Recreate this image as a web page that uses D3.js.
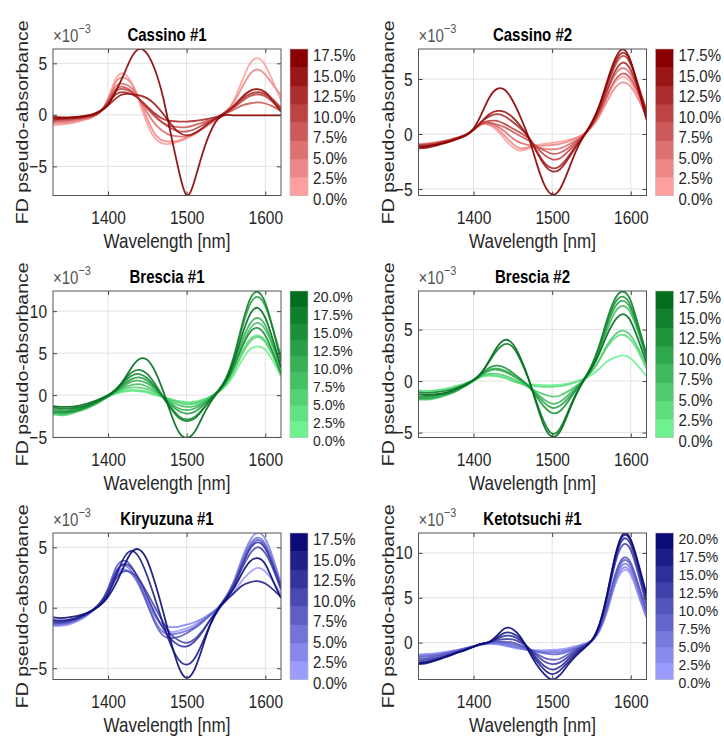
<!DOCTYPE html>
<html>
<head>
<meta charset="utf-8">
<script src="https://cdn.jsdelivr.net/npm/d3@7"></script>
<style>
  body { margin: 0; background: #fff; }
  text { font-family: "Liberation Sans", Arial, sans-serif; fill: #262626; }
</style>
</head>
<body>
<div id="chart"></div>
<script>
// wavelengths shared by every spectrum (nm)
const wavelengths = [1330,1340,1350,1360,1370,1380,1390,1400,1410,1420,1430,1440,1450,1460,1470,1480,1490,1500,1510,1520,1530,1540,1550,1560,1570,1580,1590,1600,1610,1620];

const titles = ["Cassino #1", "Cassino #2", "Brescia #1", "Brescia #2", "Kiryuzuna #1", "Ketotsuchi #1"];
const levels175 = [0, 2.5, 5, 7.5, 10, 12.5, 15, 17.5];
const levels200 = [0, 2.5, 5, 7.5, 10, 12.5, 15, 17.5, 20];
const xTicks = [1400, 1500, 1600];
const yTicks = [[-5, 0, 5], [-5, 0, 5], [-5, 0, 5, 10], [-5, 0, 5], [-5, 0, 5], [0, 5, 10]];
const yDomains = [[-7.83, 6.39], [-5.59, 7.73], [-5.05, 12.4], [-5.48, 8.75], [-5.93, 6.18], [-4.11, 12.22]];

// FD pseudo-absorbance (x10^-3), one row per concentration level, lowest first
const cassino1 = [
  [-1.0,-0.95,-0.85,-0.7,-0.5,-0.25,0.3,1.6,3.5,4.0, 3.1,1.2,-0.9,-2.3,-2.8,-2.8,-2.6,-2.3,-1.9,-1.4, -0.9,-0.35,0.3,1.4,3.2,4.9,5.5,4.8,3.2,1.4],
  [-0.85,-0.8,-0.75,-0.6,-0.45,-0.2,0.3,1.5,3.2,3.6, 3.0,1.5,-0.4,-1.9,-2.5,-2.6,-2.5,-2.2,-1.8,-1.3, -0.8,-0.3,0.3,1.2,2.6,3.9,4.4,3.9,2.9,1.9],
  [-0.7,-0.65,-0.6,-0.5,-0.35,-0.15,0.3,1.4,2.8,3.0, 2.6,1.5,0.2,-0.9,-1.6,-2.0,-2.1,-2.1,-1.8,-1.3, -0.8,-0.3,0.2,0.8,1.6,2.3,2.5,2.2,1.5,0.7],
  [-0.6,-0.55,-0.5,-0.4,-0.3,-0.1,0.3,1.3,2.5,2.7, 2.3,1.5,0.6,-0.2,-0.8,-1.1,-1.2,-1.2,-1.0,-0.75, -0.5,-0.2,0.15,0.5,0.9,1.1,1.2,1.1,0.8,0.4],
  [-0.5,-0.45,-0.4,-0.35,-0.25,-0.1,0.3,1.2,2.3,2.5, 2.2,1.5,0.7,-0.1,-0.8,-1.3,-1.6,-1.6,-1.4,-1.0, -0.6,-0.2,0.2,0.7,1.3,1.8,2.0,1.8,1.2,0.4],
  [-0.4,-0.4,-0.35,-0.3,-0.2,-0.05,0.3,1.1,2.0,2.2, 2.0,1.5,0.8,0.1,-0.4,-0.6,-0.65,-0.65,-0.6,-0.5, -0.35,-0.15,0.2,0.8,1.5,2.0,2.2,2.0,1.4,0.6],
  [-0.35,-0.35,-0.3,-0.25,-0.15,0.0,0.3,0.9,1.6,2.0, 2.0,1.9,1.6,1.0,0.1,-0.9,-1.7,-2.0,-1.8,-1.3, -0.7,-0.2,0.3,0.9,1.7,2.3,2.5,2.2,1.3,0.3],
  [-0.2,-0.25,-0.25,-0.2,-0.1,0.05,0.4,1.0,2.3,3.9, 5.6,6.4,5.9,4.3,1.7,-1.9,-5.4,-7.8,-6.4,-3.8, -1.7,-0.4,0.0,-0.05,-0.05,-0.05,-0.05,-0.05,-0.05,-0.05]
];
const cassino2 = [
  [-0.9,-0.85,-0.75,-0.65,-0.5,-0.3,-0.05,0.4,0.85,0.8, 0.3,-0.5,-1.2,-1.5,-1.3,-1.0,-0.9,-0.8,-0.7,-0.55, -0.35,0.0,0.7,1.8,3.4,4.7,5.2,4.7,3.3,1.5],
  [-0.95,-0.9,-0.8,-0.7,-0.5,-0.3,-0.05,0.4,0.9,0.9, 0.5,-0.2,-0.9,-1.3,-1.2,-1.1,-1.05,-1.0,-0.9,-0.7, -0.4,0.0,0.6,1.6,3.0,4.2,4.7,4.3,3.1,1.6],
  [-1.1,-1.05,-0.95,-0.8,-0.6,-0.35,-0.1,0.4,0.95,1.0, 0.7,0.2,-0.4,-0.8,-1.0,-1.2,-1.35,-1.4,-1.3,-1.0, -0.6,-0.1,0.8,2.1,3.9,5.4,6.0,5.4,3.8,2.0],
  [-1.05,-1.0,-0.9,-0.75,-0.55,-0.35,-0.1,0.4,0.9,1.0, 0.85,0.6,0.2,-0.2,-0.6,-1.1,-1.5,-1.8,-1.7,-1.3, -0.7,-0.1,0.7,1.9,3.5,4.9,5.5,5.0,3.6,1.9],
  [-1.0,-0.95,-0.85,-0.7,-0.55,-0.35,-0.1,0.4,1.0,1.2, 1.2,0.9,0.5,0.1,-0.4,-1.2,-1.9,-2.3,-2.2,-1.6, -0.9,-0.1,0.9,2.4,4.4,6.2,7.1,6.3,4.3,2.2],
  [-1.1,-1.05,-0.95,-0.8,-0.6,-0.4,-0.1,0.4,1.1,1.6, 1.8,1.6,1.1,0.5,-0.3,-1.5,-2.6,-3.1,-2.9,-2.1, -1.1,-0.2,0.8,2.2,4.0,5.7,6.5,5.8,4.0,2.0],
  [-1.3,-1.25,-1.1,-0.9,-0.7,-0.45,-0.15,0.35,1.1,1.8, 2.1,2.0,1.5,0.7,-0.3,-1.6,-2.8,-3.4,-3.2,-2.3, -1.2,-0.2,0.9,2.5,4.6,6.5,7.4,6.5,4.3,1.8],
  [-1.2,-1.15,-1.0,-0.85,-0.65,-0.4,-0.1,0.5,1.8,3.3, 4.1,4.0,3.0,1.5,-0.3,-2.6,-4.6,-5.5,-5.0,-3.4, -1.6,-0.2,1.0,2.6,4.8,6.8,7.7,6.6,4.0,1.3]
];
const brescia1 = [
  [-2.0,-2.1,-2.0,-1.8,-1.5,-1.1,-0.7,-0.2,0.2,0.4, 0.5,0.45,0.3,0.0,-0.25,-0.5,-0.7,-0.85,-0.8,-0.55, -0.2,0.3,1.1,2.4,4.1,5.4,5.8,5.4,4.0,2.2],
  [-2.2,-2.3,-2.2,-1.9,-1.6,-1.2,-0.75,-0.2,0.2,0.5, 0.6,0.55,0.4,0.1,-0.2,-0.5,-0.75,-0.9,-0.85,-0.6, -0.2,0.4,1.4,3.0,5.0,6.6,7.1,6.5,4.9,2.9],
  [-2.3,-2.4,-2.3,-2.0,-1.7,-1.3,-0.8,-0.2,0.3,0.7, 0.9,0.9,0.7,0.3,-0.2,-0.6,-0.9,-1.1,-1.0,-0.7, -0.2,0.4,1.3,2.8,4.8,6.3,6.9,6.3,4.6,2.6],
  [-2.0,-2.1,-2.0,-1.8,-1.5,-1.1,-0.65,-0.1,0.4,0.9, 1.2,1.3,1.0,0.5,-0.2,-0.8,-1.2,-1.4,-1.3,-0.9, -0.3,0.4,1.5,3.4,5.8,7.8,8.6,7.8,5.7,3.2],
  [-2.1,-2.2,-2.1,-1.9,-1.6,-1.2,-0.7,-0.1,0.5,1.1, 1.6,1.7,1.4,0.7,-0.2,-1.0,-1.6,-1.8,-1.6,-1.1, -0.4,0.4,1.6,3.6,6.3,8.4,9.2,8.3,5.9,3.2],
  [-1.7,-1.8,-1.8,-1.6,-1.4,-1.0,-0.6,-0.1,0.5,1.3, 1.9,2.1,1.7,0.9,-0.2,-1.2,-1.9,-2.2,-2.0,-1.3, -0.4,0.5,1.9,4.4,7.8,10.7,11.7,10.6,7.8,4.6],
  [-1.9,-2.0,-2.0,-1.8,-1.5,-1.1,-0.65,-0.1,0.6,1.5, 2.3,2.5,2.0,1.0,-0.3,-1.5,-2.5,-2.9,-2.6,-1.7, -0.6,0.4,1.6,3.4,5.6,7.4,8.0,7.1,5.0,2.5],
  [-1.5,-1.6,-1.6,-1.5,-1.3,-1.0,-0.6,-0.1,0.6,1.7, 2.7,3.0,2.5,1.3,-0.2,-1.6,-2.7,-3.1,-2.8,-1.8, -0.6,0.5,2.0,4.6,8.2,11.3,12.3,11.0,7.8,4.0],
  [-1.3,-1.4,-1.4,-1.3,-1.1,-0.8,-0.45,0.0,0.7,1.8, 3.3,4.3,4.2,2.8,0.5,-2.2,-4.4,-5.1,-4.4,-2.6, -0.9,0.4,1.8,4.0,7.0,9.5,10.4,9.2,6.5,3.3]
];
const brescia2 = [
  [-1.0,-1.0,-0.95,-0.85,-0.7,-0.5,-0.25,0.05,0.4,0.5, 0.45,0.3,0.05,-0.15,-0.3,-0.35,-0.4,-0.4,-0.35,-0.25, -0.05,0.2,0.6,1.2,1.9,2.3,2.5,2.2,1.4,0.5],
  [-0.9,-0.95,-0.9,-0.8,-0.65,-0.45,-0.2,0.1,0.45,0.6, 0.5,0.3,0.0,-0.25,-0.4,-0.5,-0.55,-0.55,-0.5,-0.35, -0.1,0.2,0.9,2.0,3.3,4.2,4.5,4.0,2.8,1.2],
  [-1.8,-1.8,-1.7,-1.5,-1.25,-0.9,-0.45,0.0,0.5,0.7, 0.7,0.5,0.2,-0.2,-0.6,-1.0,-1.3,-1.5,-1.4,-1.0, -0.5,0.1,0.9,2.1,3.5,4.5,4.9,4.4,3.1,1.5],
  [-1.6,-1.6,-1.5,-1.35,-1.15,-0.8,-0.4,0.05,0.6,1.0, 1.1,0.9,0.5,0.0,-0.5,-1.2,-1.8,-2.2,-2.0,-1.4, -0.6,0.1,1.2,2.9,5.0,6.7,7.3,6.6,4.6,2.2],
  [-1.7,-1.7,-1.6,-1.4,-1.2,-0.85,-0.45,0.05,0.6,1.1, 1.2,1.0,0.6,0.1,-0.5,-1.3,-2.1,-2.6,-2.4,-1.7, -0.8,0.1,1.3,3.1,5.4,7.2,7.8,7.0,4.9,2.4],
  [-1.5,-1.5,-1.4,-1.3,-1.1,-0.8,-0.4,0.1,0.7,1.3, 1.5,1.3,0.8,0.2,-0.5,-1.5,-2.5,-3.1,-2.9,-2.0, -0.9,0.1,1.4,3.3,5.7,7.6,8.2,7.3,5.0,2.4],
  [-1.1,-1.15,-1.1,-1.0,-0.85,-0.6,-0.3,0.1,0.8,1.9, 3.0,3.6,3.3,2.0,0.2,-2.0,-4.0,-5.1,-4.6,-3.0, -1.3,0.1,1.5,3.5,6.0,8.0,8.7,7.8,5.3,2.6],
  [-1.3,-1.35,-1.3,-1.2,-1.0,-0.7,-0.35,0.1,0.8,2.0, 3.3,4.0,3.6,2.2,0.2,-2.2,-4.4,-5.4,-4.9,-3.2, -1.4,0.0,1.2,2.7,4.5,5.9,6.5,5.8,3.9,1.8]
];
const kiryuzuna1 = [
  [-1.5,-1.5,-1.4,-1.15,-0.8,-0.3,0.35,1.3,2.6,3.1, 2.8,1.9,0.6,-0.7,-1.6,-2.0,-1.9,-1.7,-1.4,-1.0, -0.5,0.0,0.6,1.3,2.2,2.9,3.3,3.0,2.2,1.1],
  [-1.2,-1.25,-1.15,-0.95,-0.65,-0.25,0.35,1.4,2.8,3.2, 2.8,1.8,0.5,-0.7,-1.4,-1.6,-1.55,-1.4,-1.2,-0.9, -0.5,0.0,0.9,2.2,4.0,5.5,6.2,5.7,4.1,2.0],
  [-1.4,-1.4,-1.3,-1.05,-0.7,-0.25,0.4,1.5,3.0,3.5, 3.0,1.8,0.3,-1.1,-2.0,-2.2,-2.1,-1.9,-1.6,-1.1, -0.6,0.0,0.9,2.1,3.8,5.2,5.8,5.3,3.8,1.9],
  [-1.3,-1.3,-1.2,-1.0,-0.7,-0.25,0.4,1.6,3.3,3.9, 3.4,2.0,0.3,-1.3,-2.3,-2.5,-2.4,-2.1,-1.7,-1.2, -0.6,0.0,0.9,2.0,3.6,5.0,5.6,5.1,3.6,1.8],
  [-1.1,-1.1,-1.0,-0.85,-0.6,-0.2,0.35,1.2,2.4,3.0, 2.9,2.3,1.2,0.0,-1.2,-2.2,-2.7,-2.9,-2.6,-1.9, -1.0,-0.1,0.8,1.8,3.2,4.4,5.0,4.5,3.2,1.5],
  [-1.2,-1.2,-1.1,-0.9,-0.6,-0.2,0.4,1.4,2.9,3.6, 3.3,2.3,0.9,-0.5,-1.7,-2.6,-3.1,-3.2,-2.8,-2.0, -1.0,-0.1,0.8,1.9,3.4,4.8,5.4,4.9,3.4,1.6],
  [-1.0,-1.05,-1.0,-0.85,-0.6,-0.25,0.25,1.1,2.6,4.1, 4.7,4.1,2.6,0.7,-1.3,-3.1,-4.3,-4.7,-4.2,-2.9, -1.4,-0.2,0.6,1.2,1.8,2.1,2.2,2.0,1.5,0.9],
  [-0.8,-0.85,-0.8,-0.7,-0.5,-0.2,0.2,0.9,2.0,3.4, 4.6,4.8,3.9,2.0,-0.3,-2.8,-4.9,-5.8,-5.1,-3.3, -1.4,-0.1,0.7,1.6,2.8,3.8,4.1,3.6,2.2,0.8]
];
const ketotsuchi1 = [
  [-1.3,-1.25,-1.2,-1.1,-0.95,-0.8,-0.6,-0.4,-0.25,-0.15, -0.2,-0.35,-0.55,-0.7,-0.8,-0.85,-0.85,-0.8,-0.75,-0.6, -0.4,-0.15,0.2,1.3,3.5,6.4,8.0,7.6,5.2,2.8],
  [-1.4,-1.35,-1.3,-1.15,-1.0,-0.8,-0.6,-0.4,-0.2,-0.1, -0.15,-0.3,-0.5,-0.7,-0.85,-0.95,-1.0,-0.95,-0.9,-0.75, -0.5,-0.2,0.2,1.3,3.6,6.6,8.3,7.8,5.3,2.8],
  [-1.5,-1.45,-1.35,-1.2,-1.05,-0.85,-0.65,-0.45,-0.2,-0.05, -0.05,-0.2,-0.4,-0.6,-0.8,-0.95,-1.05,-1.1,-1.05,-0.85, -0.55,-0.25,0.2,1.4,3.8,6.9,8.7,8.2,5.8,3.0],
  [-1.6,-1.55,-1.45,-1.3,-1.1,-0.9,-0.7,-0.45,-0.2,0.0, 0.05,-0.05,-0.2,-0.45,-0.75,-1.0,-1.2,-1.3,-1.25,-1.0, -0.65,-0.3,0.2,1.5,4.0,7.2,9.1,8.6,6.1,3.3],
  [-1.8,-1.75,-1.6,-1.4,-1.2,-0.95,-0.7,-0.45,-0.2,0.0, 0.15,0.1,0.0,-0.3,-0.7,-1.2,-1.7,-1.9,-1.8,-1.3, -0.8,-0.35,0.2,1.6,4.2,7.5,9.4,8.9,6.4,3.6],
  [-2.0,-1.9,-1.75,-1.55,-1.3,-1.0,-0.7,-0.45,-0.15,0.05, 0.3,0.4,0.35,0.0,-0.6,-1.4,-2.1,-2.4,-2.2,-1.6, -0.9,-0.4,0.2,1.8,4.9,8.8,10.9,10.3,7.5,4.2],
  [-2.2,-2.1,-1.9,-1.65,-1.35,-1.05,-0.75,-0.45,-0.15,0.05, 0.45,0.75,0.7,0.2,-0.6,-1.7,-2.6,-3.0,-2.7,-1.9, -1.1,-0.5,0.2,1.9,5.2,9.2,11.5,10.9,8.0,4.6],
  [-2.4,-2.3,-2.05,-1.75,-1.45,-1.1,-0.8,-0.45,-0.15,0.05, 0.6,1.1,1.0,0.4,-0.7,-2.0,-3.0,-3.5,-3.1,-2.2, -1.3,-0.6,0.2,2.0,5.4,9.5,11.9,11.3,8.5,5.1],
  [-2.3,-2.2,-2.0,-1.7,-1.4,-1.1,-0.8,-0.45,-0.15,0.1, 0.8,1.6,1.5,0.6,-0.9,-2.4,-3.5,-4.1,-3.6,-2.5, -1.5,-0.7,0.2,2.0,5.4,9.6,12.1,11.5,8.7,5.4]
];

// colormap end points (light = 0 %, dark = max)
const redRamp = ["#ff9e9e", "#8a0000"];
const greenRamp = ["#6ef290", "#006e1c"];
const blueRamp = ["#9c9cff", "#0b0b78"];

const panels = [
  { title: titles[0], curves: cassino1, levels: levels175, ramp: redRamp },
  { title: titles[1], curves: cassino2, levels: levels175, ramp: redRamp },
  { title: titles[2], curves: brescia1, levels: levels200, ramp: greenRamp },
  { title: titles[3], curves: brescia2, levels: levels175, ramp: greenRamp },
  { title: titles[4], curves: kiryuzuna1, levels: levels175, ramp: blueRamp },
  { title: titles[5], curves: ketotsuchi1, levels: levels200, ramp: blueRamp }
];
panels.forEach((p, i) => { p.yDomain = yDomains[i]; p.yTicks = yTicks[i]; });

const width = 724, height = 740;
const colLeft = [53, 418.5];
const rowTop = [49, 291, 533];
const plotW = 228, plotH = 146.5;
const cbW = 18;
const stretch = 1.22; // the figure text is a bit taller than wide
const cbStretch = 1.05; // colorbar labels are packed tighter

const svg = d3.select("#chart").append("svg")
  .attr("width", width).attr("height", height);

function addText(parent, x, y, str, size, anchor, weight, sy) {
  return parent.append("text")
    .attr("transform", `translate(${x},${y}) scale(1,${sy || stretch})`)
    .attr("text-anchor", anchor || "start")
    .attr("font-size", size)
    .attr("font-weight", weight || "normal")
    .text(str);
}

panels.forEach((p, idx) => {
  const left = colLeft[idx % 2];
  const top = rowTop[Math.floor(idx / 2)];

  const x = d3.scaleLinear().domain([1330, 1620]).range([0, plotW]);
  const y = d3.scaleLinear().domain(p.yDomain).range([plotH, 0]);
  const n = p.levels.length;
  const color = i => d3.interpolateRgb(p.ramp[0], p.ramp[1])(i / (n - 1));

  const g = svg.append("g").attr("transform", `translate(${left},${top})`);

  // grid
  g.selectAll(".vgrid").data(xTicks).join("line")
    .attr("x1", d => x(d)).attr("x2", d => x(d))
    .attr("y1", 0).attr("y2", plotH)
    .attr("stroke", "#e2e2e2").attr("stroke-width", 1);
  g.selectAll(".hgrid").data(p.yTicks).join("line")
    .attr("x1", 0).attr("x2", plotW)
    .attr("y1", d => y(d)).attr("y2", d => y(d))
    .attr("stroke", "#e2e2e2").attr("stroke-width", 1);

  // spectra
  g.append("clipPath").attr("id", "clip" + idx)
    .append("rect").attr("width", plotW).attr("height", plotH);

  const line = d3.line()
    .x((d, i) => x(wavelengths[i]))
    .y(d => y(d))
    .curve(d3.curveNatural);

  g.append("g").attr("clip-path", `url(#clip${idx})`)
    .selectAll("path").data(p.curves).join("path")
    .attr("d", line)
    .attr("fill", "none")
    .attr("stroke", (d, i) => color(i))
    .attr("stroke-width", 1.8)
    .attr("stroke-opacity", 0.9);

  // axes, MATLAB style ticks pointing inward
  const gx = g.append("g").attr("transform", `translate(0,${plotH})`).attr("color", "#444")
    .call(d3.axisBottom(x).tickValues(xTicks).tickFormat(d3.format("d")).tickSize(-4).tickPadding(12));
  gx.select(".domain").remove();
  gx.selectAll("text").attr("font-size", 15.5).attr("transform", `scale(1,${stretch})`);

  const gy = g.append("g").attr("color", "#444")
    .call(d3.axisLeft(y).tickValues(p.yTicks).tickSize(-4).tickPadding(6));
  gy.select(".domain").remove();
  gy.selectAll("text").attr("font-size", 15.5).attr("transform", `scale(1,${stretch})`);

  const gt = g.append("g").attr("color", "#444")
    .call(d3.axisTop(x).tickValues(xTicks).tickSize(-4).tickFormat(""));
  gt.select(".domain").remove();
  const gr = g.append("g").attr("transform", `translate(${plotW},0)`).attr("color", "#444")
    .call(d3.axisRight(y).tickValues(p.yTicks).tickSize(-4).tickFormat(""));
  gr.select(".domain").remove();

  g.append("rect")
    .attr("width", plotW).attr("height", plotH)
    .attr("fill", "none").attr("stroke", "#555").attr("stroke-width", 1);

  // labels
  addText(g, plotW / 2, -8, p.title, 15, "middle", "bold").style("fill", "#000");
  const mult = addText(g, 0, -7, "", 15, "start");
  mult.append("tspan").text("×10").style("fill", "#555");
  mult.append("tspan").attr("dy", -7).attr("font-size", 11).text("−3").style("fill", "#555");

  addText(g, plotW / 2, plotH + 52, "Wavelength [nm]", 17, "middle");
  g.append("text")
    .attr("transform", `translate(-25,${plotH / 2}) scale(1,${stretch}) rotate(-90)`)
    .attr("text-anchor", "middle")
    .attr("font-size", 16)
    .text("FD pseudo-absorbance");

  // colorbar
  const cb = g.append("g").attr("transform", `translate(${plotW + 9},0)`);
  const bandH = plotH / n;
  cb.selectAll("rect").data(p.levels).join("rect")
    .attr("x", 0)
    .attr("y", (d, i) => plotH - (i + 1) * bandH)
    .attr("width", cbW)
    .attr("height", bandH + 0.4)
    .attr("fill", (d, i) => color(i));
  cb.append("rect").attr("width", cbW).attr("height", plotH)
    .attr("fill", "none").attr("stroke", "#bbb").attr("stroke-width", 0.6);

  const cbY = d3.scaleLinear().domain(d3.extent(p.levels)).range([plotH + 3, 6]);
  const cbSize = n > 8 ? 14 : 15;
  p.levels.forEach(v => {
    addText(cb, cbW + 5, cbY(v), d3.format(".1f")(v) + "%", cbSize, "start", "normal", n > 8 ? cbStretch : 1.12)
      .attr("dy", "0.36em");
  });
});
</script>
</body>
</html>
